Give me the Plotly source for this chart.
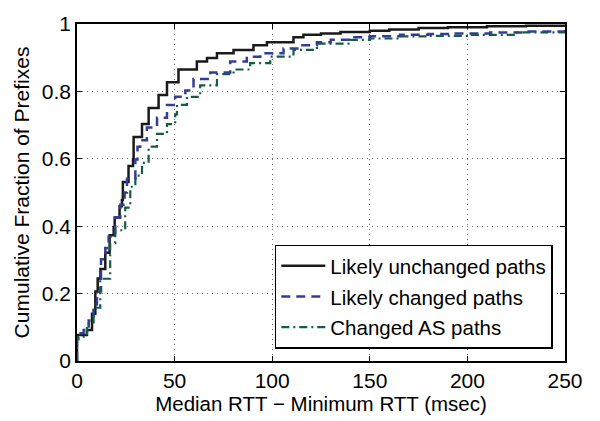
import plotly.graph_objects as go

# Likely unchanged paths
unch_x = [0, 0, 5.1, 7.7, 9.4, 10.6, 12, 14.5, 16.7, 18.8, 19.3, 21.8, 23, 23.5, 26.4, 28.7,
          29, 33.3, 36.7, 41.8, 46.1, 52, 61.4, 66.6, 71.7, 80.2, 90.4, 97.3, 110.9, 116,
          125, 135, 150, 160, 175, 190, 210, 230, 250]
unch_y = [0, 0.077, 0.092, 0.14, 0.206, 0.245, 0.273, 0.321, 0.373, 0.397, 0.426, 0.459, 0.478,
          0.531, 0.579, 0.598, 0.665, 0.703, 0.751, 0.789, 0.827, 0.865, 0.889, 0.899, 0.913,
          0.923, 0.937, 0.946, 0.961, 0.968, 0.972, 0.976, 0.98, 0.984, 0.988, 0.99, 0.993,
          0.995, 0.997]

# Likely changed paths
chg_x = [0, 0, 0.8, 3.4, 6, 8.5, 10.2, 12.3, 14.5, 16.2, 19.6, 22.2, 24.4, 25.6, 29.9, 31,
         32.4, 35.8, 41, 46.1, 50.3, 55.5, 59.7, 68.3, 78.5, 87, 93.9, 105.8, 114, 122.9, 130,
         139.9, 150, 165.5, 180, 191.1, 211.6, 230, 250]
chg_y = [0, 0.07, 0.082, 0.092, 0.12, 0.168, 0.206, 0.302, 0.335, 0.369, 0.426, 0.464, 0.50,
         0.541, 0.598, 0.636, 0.655, 0.693, 0.722, 0.76, 0.784, 0.803, 0.837, 0.856, 0.889,
         0.903, 0.913, 0.927, 0.937, 0.946, 0.953, 0.961, 0.964, 0.968, 0.97, 0.972, 0.975,
         0.978, 0.982]

# Changed AS paths
as_x = [0, 0, 0.8, 5.1, 8.5, 11.9, 17, 19.6, 24.7, 27.3, 29.9, 33.3, 36.7, 41, 46.1, 50.3,
        51.2, 56.3, 63.1, 71.7, 80.2, 88.7, 99, 110.9, 122.9, 139.9, 150, 165.5, 180, 199.7,
        225.3, 250]
as_y = [0, 0.065, 0.072, 0.111, 0.158, 0.244, 0.35, 0.388, 0.455, 0.517, 0.55, 0.588, 0.636,
        0.674, 0.703, 0.732, 0.76, 0.784, 0.818, 0.851, 0.865, 0.884, 0.903, 0.923, 0.942,
        0.953, 0.957, 0.963, 0.965, 0.968, 0.975, 0.98]

names = ["Likely unchanged paths", "Likely changed paths", "Changed AS paths"]
x_ticks = [0, 50, 100, 150, 200, 250]
y_ticks = [0, 0.2, 0.4, 0.6, 0.8, 1]

FONT = "Liberation Sans, Arial, sans-serif"

fig = go.Figure()
fig.add_trace(go.Scatter(x=unch_x, y=unch_y, mode="lines", name=names[0], line_shape="hv",
                         legendgroup="a",
                         line=dict(color="#1a1a1a", width=2.5)))
fig.add_trace(go.Scatter(x=chg_x, y=chg_y, mode="lines", name=names[1], line_shape="hv",
                         legendgroup="b",
                         line=dict(color="#343c98", width=2.5, dash="9px,6px")))
fig.add_trace(go.Scatter(x=as_x, y=as_y, mode="lines", name=names[2], line_shape="hv",
                         legendgroup="c",
                         line=dict(color="#145c46", width=2.2, dash="8px,4px,2px,4px")))

axis_common = dict(
    showline=True, linecolor="black", linewidth=1.5, mirror="ticks",
    ticks="inside", ticklen=5, tickwidth=1, tickcolor="black",
    showgrid=True, gridcolor="rgba(0,0,0,0.55)", gridwidth=1, griddash="1px,4px",
    zeroline=False, tickfont=dict(family=FONT, size=21, color="black"),
)

fig.update_xaxes(range=[0, 250], tickvals=x_ticks, **axis_common,
                 title=dict(text="Median RTT \u2212 Minimum RTT (msec)",
                            font=dict(family=FONT, size=20.5, color="black"), standoff=3))
fig.update_yaxes(range=[0, 1], tickvals=y_ticks, **axis_common,
                 title=dict(text="Cumulative Fraction of Prefixes",
                            font=dict(family=FONT, size=21, color="black"), standoff=6))

fig.update_layout(
    width=600, height=421,
    margin=dict(l=77, r=35, t=13, b=59),
    plot_bgcolor="white", paper_bgcolor="white",
    font=dict(family=FONT, size=20, color="black"),
    legend=dict(x=0.975, xanchor="right", y=0.037, yanchor="bottom",
                bgcolor="white", bordercolor="black", borderwidth=1.5,
                font=dict(family=FONT, size=20.5, color="black"),
                itemwidth=44, entrywidth=288, entrywidthmode="pixels",
                traceorder="grouped", tracegroupgap=1),
    showlegend=True,
)

fig.write_html("out.html")
